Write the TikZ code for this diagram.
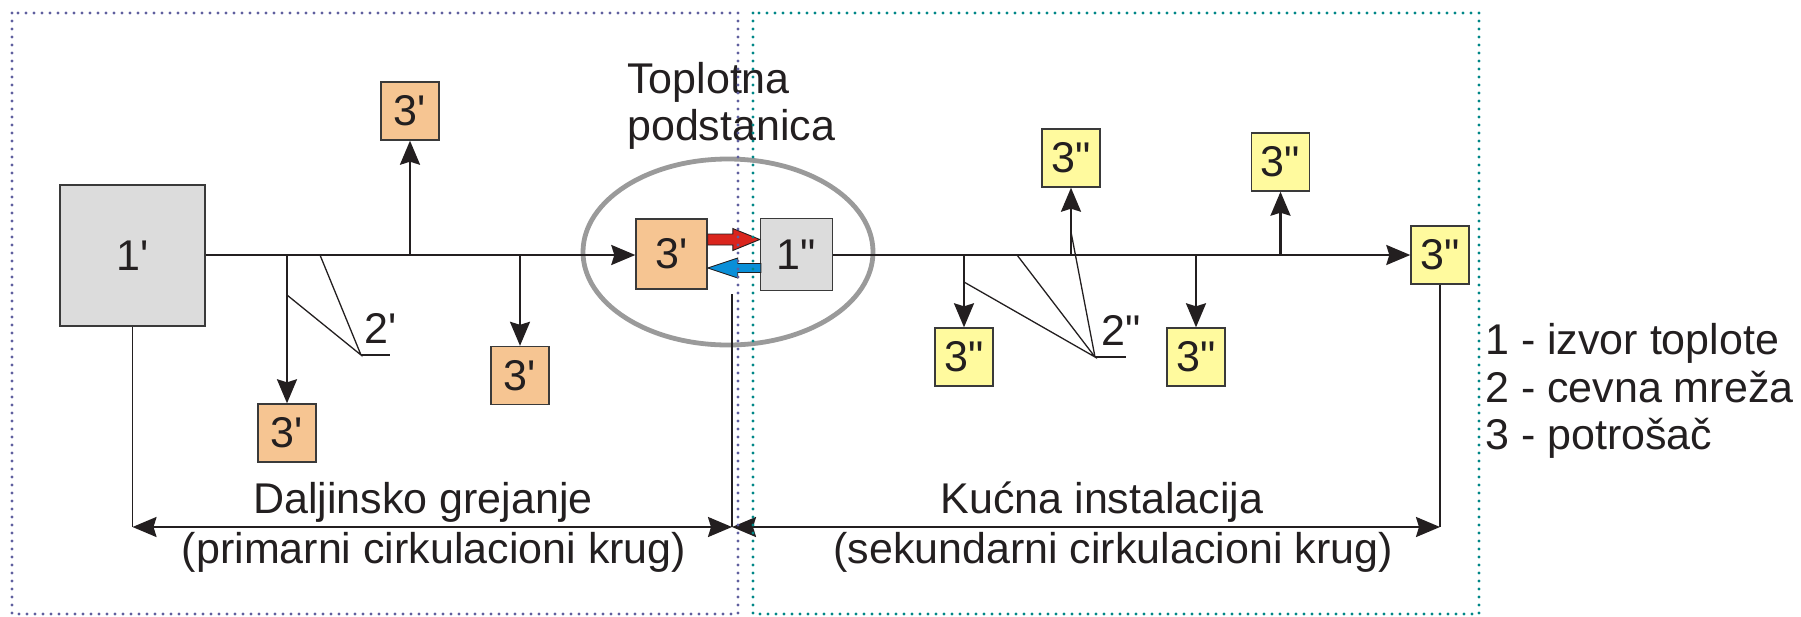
\documentclass[tikz,border=0pt]{standalone}
\usepackage{fontspec}
\setmainfont{Liberation Sans}
\usetikzlibrary{arrows.meta,calc}

% straight quote glyphs, set directly so no TeX ligature curls them
\newcommand\sq{\XeTeXglyph\XeTeXcharglyph"27\relax}
\newcommand\dq{\XeTeXglyph\XeTeXcharglyph"22\relax}
\newcommand\lbl{\fontsize{43}{47}\selectfont}

\definecolor{ink}{HTML}{231F20}
\definecolor{boxline}{HTML}{3A3A3A}
\definecolor{peach}{HTML}{F6C592}
\definecolor{lemon}{HTML}{FFFA9E}
\definecolor{stone}{HTML}{DCDCDC}
\definecolor{ringgrey}{HTML}{9A9A9A}
\definecolor{hot}{HTML}{DA251D}
\definecolor{cold}{HTML}{0A8FD8}
\definecolor{primframe}{HTML}{5F5F9E}
\definecolor{secframe}{HTML}{008787}

\tikzset{
  unit/.style={draw=boxline, line width=1.4pt, inner sep=0pt, font=\lbl, text=ink,
    minimum width=58pt, minimum height=58pt},
  peachbox/.style={unit, fill=peach},
  lemonbox/.style={unit, fill=lemon},
  stonebox/.style={unit, fill=stone},
  pipe/.style={draw=ink, line width=2.3pt},
  retline/.style={draw=ink, line width=1.6pt},
  leader/.style={draw=ink, line width=1.3pt},
  ring/.style={draw=ringgrey, line width=4.8pt},
  flowarrow/.style={draw=ink, line width=0.9pt, line join=miter},
  frame/.style={line width=3.4pt, line cap=round, dash pattern=on 0pt off 8pt},
  txt/.style={font=\lbl, text=ink, inner sep=0pt},
}

\begin{document}
\begin{tikzpicture}[x=1pt, y=-1pt, >={Stealth[length=24pt,width=20pt,inset=3pt]}]
\useasboundingbox (0,0) rectangle (1801,616);

% substation ring
\draw[ring] (728,252) ellipse [x radius=145pt, y radius=93pt];

% heat sources and consumers
\node[stonebox, minimum width=145pt, minimum height=141pt] (src1) at (132.5,255.5) {1\sq};
\node[peachbox] (p1) at (287,433) {3\sq};
\node[peachbox] (p2) at (410,111) {3\sq};
\node[peachbox] (p3) at (520,375.5) {3\sq};
\node[peachbox, minimum width=71pt, minimum height=70pt] (p4) at (671.5,254) {3\sq};
\node[stonebox, minimum width=72pt, minimum height=72pt] (src2) at (796.5,254.5) {1\dq};
\node[lemonbox] (y1) at (964,357) {3\dq};
\node[lemonbox] (y2) at (1071,158) {3\dq};
\node[lemonbox] (y3) at (1196,357) {3\dq};
\node[lemonbox] (y4) at (1280.5,162) {3\dq};
\node[lemonbox] (y5) at (1440,255) {3\dq};

% supply mains
\coordinate (m) at (0,255);
\draw[pipe,->] (src1.east |- m) -- (p4.west |- m);
\draw[pipe,->] (src2.east |- m) -- (y5.west |- m);

% branches to consumers
\draw[pipe,->] (p1.north |- m) -- (p1.north);
\draw[pipe,->] (p2.south |- m) -- (p2.south);
\draw[pipe,->] (p3.north |- m) -- (p3.north);
\draw[pipe,->] (y1.north |- m) -- (y1.north);
\draw[pipe,->] (y2.south |- m) -- (y2.south);
\draw[pipe,->] (y3.north |- m) -- (y3.north);
\draw[pipe,->] (y4.south |- m) -- (y4.south);

% pipe network leaders
\coordinate (k1) at (361,355);
\draw[leader] ($(p1.north |- m)+(0,40)$) -- (k1) -- (320,255);
\draw[leader] (k1) -- ++(29,0);
\node[txt, anchor=base west] (n2a) at (364,343) {2\sq};

\coordinate (k2) at (1095,357);
\draw[leader] ($(y1.north |- m)+(0,27)$) -- (k2) -- (1017,255);
\draw[leader] ($(y2.south |- m)+(0,-23)$) -- (k2);
\draw[leader] (k2) -- ++(31,0);
\node[txt, anchor=base west] (n2b) at (1101,345) {2\dq};

% heat exchange in the substation
\coordinate (ra) at ($(p4.east)+(0,-14.5)$);
\coordinate (rb) at (src2.west |- ra);
\draw[flowarrow, fill=hot] ($(ra)+(0,-5.5)$) -- ($(rb)+(-27,-5.5)$) -- ($(rb)+(-27,-11)$)
  -- (rb) -- ($(rb)+(-27,11)$) -- ($(rb)+(-27,5.5)$) -- ($(ra)+(0,5.5)$) -- cycle;
\coordinate (ba) at ($(src2.west)+(1,13.5)$);
\coordinate (bb) at (p4.east |- ba);
\draw[flowarrow, fill=cold] ($(ba)+(0,-4.5)$) -- ($(bb)+(30,-4.5)$) -- ($(bb)+(30,-10)$)
  -- (bb) -- ($(bb)+(30,10)$) -- ($(bb)+(30,4.5)$) -- ($(ba)+(0,4.5)$) -- cycle;

% circuit extents
\coordinate (b) at (0,527);
\coordinate (cut) at (732,294);
\draw[retline] (src1.south) -- (src1.south |- b);
\draw[retline] (cut) -- (cut |- b);
\draw[retline] (y5.south) -- (y5.south |- b);
\draw[pipe,<->] (src1.south |- b) -- (cut |- b);
\draw[pipe,<->] (cut |- b) -- (y5.south |- b);

% labels
\node[txt, anchor=base west] (t1) at (627,93) {Toplotna};
\node[txt, anchor=base west] (t2) at (627,140) {podstanica};
\node[txt, anchor=base] (l1) at (423,513) {Daljinsko grejanje};
\node[txt, anchor=base] (l2) at (434,563) {(primarni cirkulacioni krug)};
\node[txt, anchor=base] (l3) at (1102,513) {Kućna instalacija};
\node[txt, anchor=base] (l4) at (1113,563) {(sekundarni cirkulacioni krug)};

% legend
\node[txt, anchor=base west] (g1) at (1485,354) {1 - izvor toplote};
\node[txt, anchor=base west] (g2) at (1485,402) {2 - cevna mreža};
\node[txt, anchor=base west] (g3) at (1485,449) {3 - potrošač};

% circuit frames
\draw[frame, draw=primframe] (12,13) rectangle (738,614);
\draw[frame, draw=secframe] (753,13) rectangle (1479,614);
\end{tikzpicture}
\end{document}
